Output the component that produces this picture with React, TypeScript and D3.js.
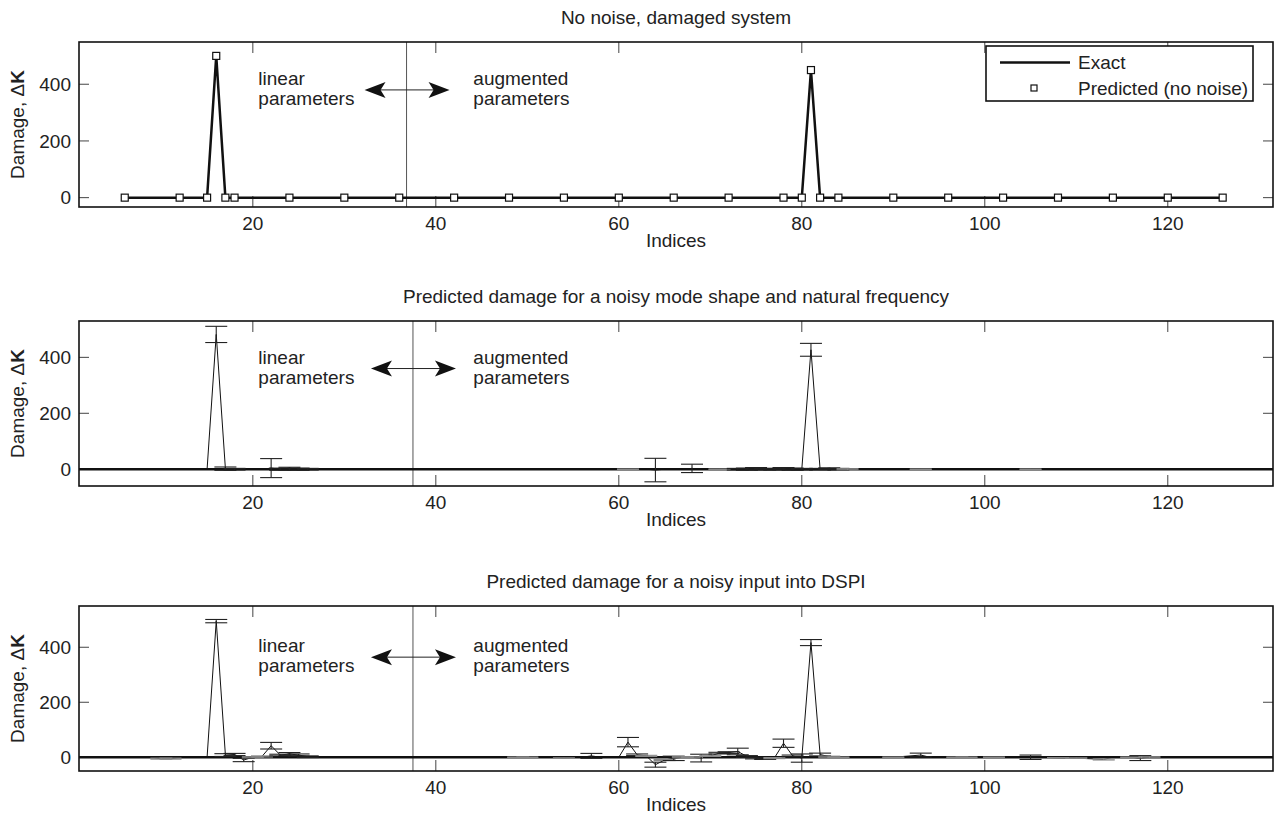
import * as d3 from 'd3';
import React from 'react';

// axis ticks
const xTicks = [20, 40, 60, 80, 100, 120];
const yTicks = [0, 200, 400];

// panel 1: exact damage and noise-free prediction
const exactIdx = [6, 15, 16, 17, 80, 81, 82, 126];
const exactVal = [0, 0, 500, 0, 0, 450, 0, 0];
const predIdx = [6, 12, 15, 16, 17, 18, 24, 30, 36, 42, 48, 54, 60, 66, 72, 78, 80, 81, 82, 84, 90, 96, 102, 108, 114, 120, 126];
const predVal = [0, 0, 0, 500, 0, 0, 0, 0, 0, 0, 0, 0, 0, 0, 0, 0, 0, 450, 0, 0, 0, 0, 0, 0, 0, 0, 0];

// panel 2: noisy mode shape / natural frequency (mean, error)
const modeIdx = [15, 16, 17, 18, 21, 22, 23, 24, 25, 26, 60, 61, 63, 64, 65, 67, 68, 69, 71, 73, 74, 75, 76, 77, 78, 79, 80, 81, 82, 83, 84, 85, 93, 105];
const modeMean = [0, 482, 2, 0, 0, 4, 0, 2, 0, 0, 0, 0, 0, -3, 0, 0, 3, 0, 0, 0, 0, 2, 0, 0, 2, 0, 0, 427, 0, 2, 0, 0, 0, 0];
const modeErr = [0, 29, 6, 3, 0, 34, 4, 5, 4, 3, 0, 1, 0, 42, 0, 0, 15, 0, 1, 3, 4, 4, 3, 3, 4, 4, 3, 23, 3, 3, 3, 2, 1, 1];

// panel 3: noisy input into DSPI (mean, error)
const dspiIdx = [9, 10, 11, 12, 15, 16, 17, 18, 19, 20, 21, 22, 23, 24, 25, 26, 27, 49, 50, 53, 54, 55, 56, 57, 58, 60, 61, 62, 63, 64, 65, 66, 67, 68, 69, 70, 71, 72, 73, 74, 75, 76, 77, 78, 79, 80, 81, 82, 83, 84, 85, 90, 93, 94, 97, 98, 101, 105, 106, 108, 110, 113, 114, 116, 117, 118, 119];
const dspiMean = [0, -5, -5, 0, 0, 495, 8, 10, -10, 0, 3, 42, 8, 12, 8, 2, 0, 0, 0, 0, -3, 0, 0, 5, 0, 0, 55, 9, 5, -27, -10, -4, 0, 0, -3, 5, 15, 17, 21, 3, -3, -5, -3, 51, 5, -3, 417, 10, 2, 0, 0, 0, 8, 0, 0, 0, 0, 0, 0, -2, -3, -8, 0, 0, -3, 0, 0];
const dspiErr = [0, 2, 2, 0, 0, 6, 5, 4, 6, 2, 2, 12, 3, 5, 4, 3, 0, 1, 1, 0, 1, 0, 0, 9, 0, 0, 17, 3, 2, 9, 2, 8, 2, 2, 14, 2, 3, 3, 12, 3, 3, 3, 2, 15, 3, 15, 11, 5, 2, 1, 0, 1, 7, 0, 1, 1, 1, 8, 0, 1, 1, 2, 0, 1, 9, 2, 0];

const W = 1275;
const H = 815;
const L = 79;
const R = 1273;
const PH = 165;
const FONT = '"Liberation Sans", Arial, Helvetica, sans-serif';

const panels = [
  { top: 42, dom: [-33, 549], title: 'No noise, damaged system', vline: 36.8, arrowY: 380, kind: 'exact' },
  { top: 321, dom: [-60, 530], title: 'Predicted damage for a noisy mode shape and natural frequency', vline: 37.5, arrowY: 360, kind: 'err', idx: modeIdx, mean: modeMean, err: modeErr },
  { top: 606, dom: [-50, 550], title: 'Predicted damage for a noisy input into DSPI', vline: 37.5, arrowY: 364, kind: 'err', idx: dspiIdx, mean: dspiMean, err: dspiErr },
];

const x = d3.scaleLinear().domain([1, 131.5]).range([L, R]);

function Arrow({ x1, x2, y }) {
  const hl = 21, hw = 8, n = 5;
  const head = (tip, dir) =>
    `M${tip},${y} L${tip + dir * hl},${y - hw} L${tip + dir * (hl - n)},${y} L${tip + dir * hl},${y + hw} Z`;
  return (
    <g>
      <line x1={x1 + 10} x2={x2 - 10} y1={y} y2={y} stroke="#222" strokeWidth={1} />
      <path d={head(x1, 1)} fill="#111" />
      <path d={head(x2, -1)} fill="#111" />
    </g>
  );
}

function Panel({ p }) {
  const y = d3.scaleLinear().domain(p.dom).range([p.top + PH, p.top]);
  const bottom = p.top + PH;
  const line = d3.line().x((d) => x(d[0])).y((d) => y(d[1]));
  const vx = x(p.vline);
  const ay = y(p.arrowY);

  let content = null;
  if (p.kind === 'exact') {
    const ex = exactIdx.map((d, i) => [d, exactVal[i]]);
    content = (
      <g>
        <path d={line(ex)} fill="none" stroke="#111" strokeWidth={2.5} strokeLinejoin="round" />
        {predIdx.map((d, i) => (
          <rect key={i} x={x(d) - 3.5} y={y(predVal[i]) - 3.5} width={7} height={7} fill="#fff" stroke="#111" strokeWidth={1.2} />
        ))}
      </g>
    );
  } else {
    const pts = p.idx.map((d, i) => [d, p.mean[i]]);
    content = (
      <g>
        <line x1={L} x2={R} y1={y(0)} y2={y(0)} stroke="#111" strokeWidth={2.5} />
        <path d={line(pts)} fill="none" stroke="#111" strokeWidth={1} />
        {p.idx.map((d, i) => {
          const e = p.err[i];
          if (e <= 0) return null;
          const cx = x(d);
          const y1 = y(p.mean[i] + e);
          const y2 = y(p.mean[i] - e);
          const c = e <= 2 ? '#888' : '#222';
          return (
            <g key={i} stroke={c} strokeWidth={1.1}>
              <line x1={cx} x2={cx} y1={y1} y2={y2} />
              <line x1={cx - 11} x2={cx + 11} y1={y1} y2={y1} />
              <line x1={cx - 11} x2={cx + 11} y1={y2} y2={y2} />
            </g>
          );
        })}
      </g>
    );
  }

  return (
    <g fontFamily={FONT} fontSize={19} fill="#222">
      <text x={(L + R) / 2} y={p.top - 18} textAnchor="middle">{p.title}</text>
      {/* ticks inside the box */}
      {xTicks.map((t) => (
        <g key={t} stroke="#444" strokeWidth={1}>
          <line x1={x(t)} x2={x(t)} y1={bottom} y2={bottom - 11} />
          <line x1={x(t)} x2={x(t)} y1={p.top} y2={p.top + 11} />
        </g>
      ))}
      {yTicks.map((t) => (
        <g key={t} stroke="#444" strokeWidth={1}>
          <line x1={L} x2={L + 10} y1={y(t)} y2={y(t)} />
          <line x1={R} x2={R - 10} y1={y(t)} y2={y(t)} />
        </g>
      ))}
      {xTicks.map((t) => (
        <text key={t} x={x(t)} y={bottom + 23} textAnchor="middle">{t}</text>
      ))}
      {yTicks.map((t) => (
        <text key={t} x={L - 8} y={y(t)} dy="0.35em" textAnchor="end">{t}</text>
      ))}
      <text x={(L + R) / 2} y={bottom + 40} textAnchor="middle">Indices</text>
      <text transform={`translate(24,${p.top + PH / 2}) rotate(-90)`} textAnchor="middle">
        Damage, Δ<tspan fontWeight="bold">K</tspan>
      </text>

      <line x1={vx} x2={vx} y1={p.top} y2={bottom} stroke="#555" strokeWidth={1} />
      <Arrow x1={vx - 42} x2={vx + 43} y={ay} />
      <text x={x(20.6)} y={ay - 5}>linear</text>
      <text x={x(20.6)} y={ay + 15}>parameters</text>
      <text x={x(44.1)} y={ay - 5}>augmented</text>
      <text x={x(44.1)} y={ay + 15}>parameters</text>

      {content}

      <rect x={L} y={p.top} width={R - L} height={PH} fill="none" stroke="#111" strokeWidth={1.6} />

      {p.kind === 'exact' && (
        <g>
          <rect x={986} y={46} width={267} height={55} fill="#fff" stroke="#111" strokeWidth={1.6} />
          <line x1={1000} x2={1070} y1={62.5} y2={62.5} stroke="#111" strokeWidth={2.5} />
          <text x={1078} y={69}>Exact</text>
          <rect x={1031} y={85} width={6} height={6} fill="#fff" stroke="#111" strokeWidth={1.2} />
          <text x={1078} y={95}>Predicted (no noise)</text>
        </g>
      )}
    </g>
  );
}

export default function App() {
  return (
    <svg width={W} height={H} style={{ position: 'absolute', left: 0, top: 0, background: '#fff' }}>
      <rect width={W} height={H} fill="#fff" />
      {panels.map((p, i) => (
        <Panel key={i} p={p} />
      ))}
    </svg>
  );
}
